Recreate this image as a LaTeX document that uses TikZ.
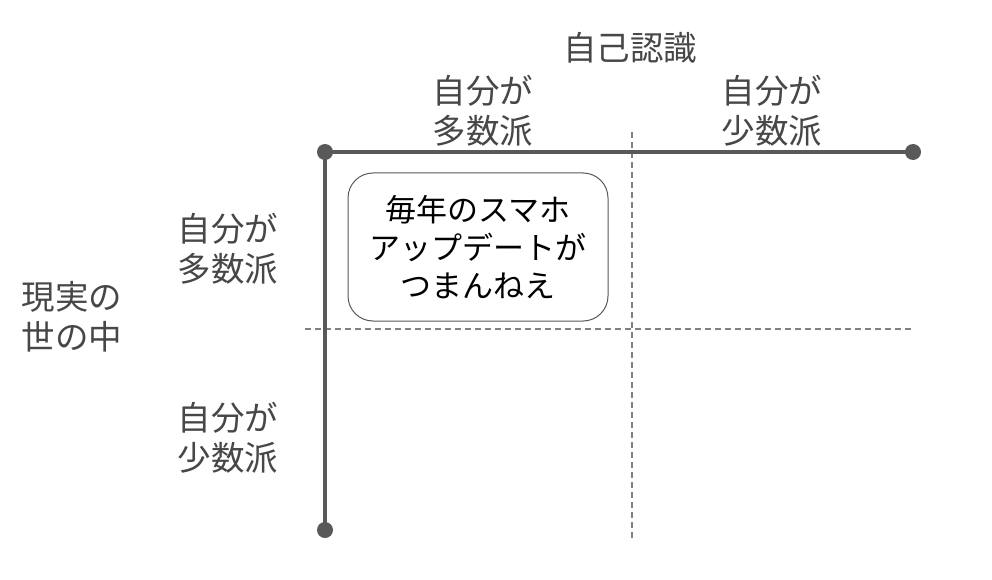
\documentclass[tikz,border=0pt]{standalone}
\usepackage{fontspec}
\setmainfont{Noto Sans CJK JP}
\begin{document}
\begin{tikzpicture}[x=1pt,y=-1pt,
  lbl/.style={text=black!72, font=\fontsize{33.5}{40}\selectfont, align=center, inner sep=0pt},
  axis/.style={draw=black!65, line width=4pt},
  dotmark/.style={circle, fill=black!65, minimum size=16pt, inner sep=0pt},
  grid/.style={draw=black!50, line width=1.2pt, dash pattern=on 6pt off 4pt},
  card/.style={draw=black!65, line width=1pt, rounded corners=25pt, minimum width=260pt, minimum height=148pt, align=center, font=\fontsize{31}{38}\selectfont, inner sep=0pt}]
\useasboundingbox (0,0) rectangle (992,580);
\fill[white] (0,0) rectangle (992,580);
% grid
\coordinate (vt) at (632,132);
\coordinate (vb) at (632,540);
\coordinate (hl) at (305,329);
\coordinate (hr) at (913,329);
\draw[grid] (vt) -- (vb);
\draw[grid] (hl) -- (hr);
% axes
\node[dotmark] (o) at (325,152) {};
\node[dotmark] (r) at (913,152) {};
\node[dotmark] (b) at (325,530) {};
\draw[axis] (o.center) -- (r.center);
\draw[axis] (o.center) -- (b.center);
% card
\node[card, fill=white] (c) at (478,247) {毎年のスマホ\\アップデートが\\つまんねえ};
% labels
\node[lbl] (t) at (630,48) {自己認識};
\node[lbl] (c1) at (483,111) {自分が\\多数派};
\node[lbl] (c2) at (772,111) {自分が\\少数派};
\node[lbl] (r1) at (228,249) {自分が\\多数派};
\node[lbl] (r2) at (228,438) {自分が\\少数派};
\node[lbl] (s) at (72,317) {現実の\\世の中};
\end{tikzpicture}
\end{document}
